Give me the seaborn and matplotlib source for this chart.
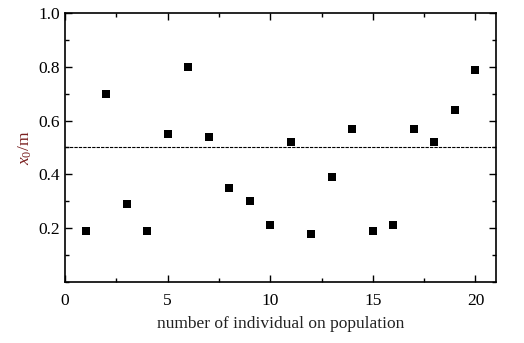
import matplotlib
matplotlib.use("Agg")
import matplotlib.pyplot as plt
import seaborn as sns
import pandas as pd
from matplotlib.ticker import MultipleLocator, FixedLocator

individual = list(range(1, 21))
x0_values = [0.19, 0.70, 0.29, 0.19, 0.55, 0.80, 0.54, 0.35, 0.30, 0.21,
             0.52, 0.18, 0.39, 0.57, 0.19, 0.21, 0.57, 0.52, 0.64, 0.79]
ref_value = 0.5
x_ticks = [0, 5, 10, 15, 20]
y_ticks = [0.2, 0.4, 0.6, 0.8, 1.0]
y_ticklabels = ["0.2", "0.4", "0.6", "0.8", "1.0"]

sns.set_style("ticks")
plt.rcParams['font.family'] = ['Liberation Serif', 'DejaVu Serif']
plt.rcParams['mathtext.fontset'] = 'custom'
plt.rcParams['mathtext.it'] = 'Liberation Serif:italic'
plt.rcParams['mathtext.rm'] = 'Liberation Serif'

df = pd.DataFrame({"n": individual, "x0": x0_values})

fig = plt.figure(figsize=(5.24, 3.43), dpi=100)
ax = fig.add_axes([0.124, 0.178, 0.8226, 0.784])

sns.scatterplot(data=df, x="n", y="x0", marker="s", s=30, color="black",
                linewidth=0, ax=ax, zorder=3)
ax.axhline(ref_value, color="black", lw=0.8, ls=(0, (3, 1)), zorder=2)

ax.set_xlim(0, 21)
ax.set_ylim(0, 1.0)
ax.xaxis.set_major_locator(FixedLocator(x_ticks))
ax.xaxis.set_minor_locator(MultipleLocator(2.5))
ax.yaxis.set_major_locator(FixedLocator(y_ticks))
ax.set_yticklabels(y_ticklabels)
ax.yaxis.set_minor_locator(MultipleLocator(0.1))
ax.tick_params(which="both", direction="in", top=True, right=True,
               width=1.0, labelsize=12.5, colors="black")
ax.tick_params(which="major", length=5)
ax.tick_params(which="minor", length=3)
ax.tick_params(axis="x", pad=8)
for sp in ax.spines.values():
    sp.set_linewidth(1.2)
    sp.set_color("black")

ax.set_xlabel("number of individual on population", fontsize=12.5, color="#222222", labelpad=5)
ax.set_ylabel(r"$x_{\mathit{0}}$/m", fontsize=12.5, color="#7a2020", labelpad=3)

fig.savefig("out.png", dpi=100)
